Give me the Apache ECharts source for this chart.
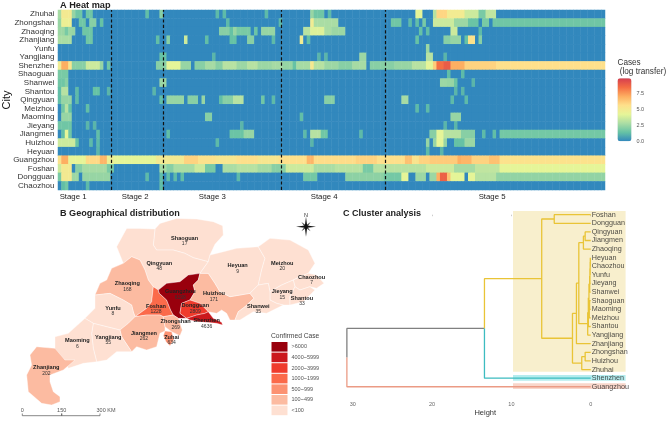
<!DOCTYPE html>
<html>
<head>
<meta charset="utf-8">
<title>Guangdong</title>
<script src="https://cdn.jsdelivr.net/npm/echarts@6/dist/echarts.min.js"></script>
<style>
html,body{margin:0;padding:0;background:#fff;}
#main{width:669px;height:421px;}
</style>
</head>
<body>
<div id="main"></div>
<script>
var dayCount = 156;
var heatCities = ['Zhuhai','Zhongshan','Zhaoqing','Zhanjiang','Yunfu','Yangjiang','Shenzhen','Shaoguan','Shanwei','Shantou','Qingyuan','Meizhou','Maoming','Jieyang','Jiangmen','Huizhou','Heyuan','Guangzhou','Foshan','Dongguan','Chaozhou'];

// log cases per city: [first day, last day, value], days not listed are 0
var zhuhai = [[0,0,2.7],[1,3,5],[4,4,2.4],[5,6,1.6],[8,9,1.6],[25,25,1.3],[29,29,2.1],[45,45,1.2],[47,47,1.2],[59,59,1.2],[72,72,2.4],[73,75,1.6],[77,77,1.2],[102,103,4.2],[107,107,3.1],[108,110,5.9],[111,115,4.9],[116,119,3.6],[120,121,1.8],[122,124,3.3]];
var zhongshan = [[0,0,2.4],[1,3,4.6],[6,7,1.6],[9,10,2.1],[12,12,1.4],[48,48,1.2],[63,63,1.2],[72,72,4.8],[73,79,2.8],[95,97,1.6],[100,100,1.2],[102,102,1.3],[104,104,1.8],[107,112,3.6],[113,116,2.5],[117,119,1.5],[121,122,1.8],[124,155,1.6]];
var zhaoqing = [[0,1,2.5],[2,2,1.8],[3,3,2.5],[4,4,2.4],[7,9,1.6],[46,48,2.1],[49,49,1.4],[50,50,2.4],[51,51,1.8],[52,54,1.8],[56,56,1.5],[58,61,2.4],[70,71,3.1],[72,75,4],[76,77,2.8],[78,81,2.5],[103,103,1.4],[105,105,1.3],[112,113,3.6],[120,120,1.2]];
var zhanjiang = [[0,3,2.8],[8,9,1.6],[28,28,1.3],[31,31,2.1],[36,36,3.6],[42,42,1.3],[49,50,1.4],[54,55,2.1],[61,61,1.2],[69,69,4.8],[71,71,1.3],[102,102,1.4],[110,111,2.1],[112,114,2.4],[116,116,1.4],[117,118,5.5],[120,120,2.1]];
var yunfu = [[105,105,2.5]];
var yangjiang = [[29,30,1.4],[44,44,1.1],[74,74,1.1],[76,76,1.1],[86,87,2.5],[105,106,3.1],[110,110,1.1]];
var shenzhen = [[0,0,4.8],[1,2,7],[3,3,5.3],[4,7,2.1],[8,11,3.6],[12,12,2.4],[14,14,1.6],[28,30,2.1],[31,34,4.2],[35,37,2.4],[39,41,2.1],[42,44,2.7],[45,46,2.1],[47,50,3.1],[51,53,2.5],[54,56,3.1],[57,60,2.5],[61,63,2.7],[64,66,2.4],[67,67,1.4],[68,71,2.7],[72,72,5.1],[73,75,3.1],[76,79,2.5],[80,83,2.1],[84,87,2.7],[89,92,2.1],[93,95,2.1],[96,100,2.4],[101,104,3.1],[105,106,4.2],[107,107,6.2],[108,109,8.4],[110,111,8.9],[112,115,7],[116,124,6],[125,155,5.6]];
var shaoguan = [[0,2,1.8],[111,111,1.3],[115,115,1.2]];
var shanwei = [[0,1,1.6],[2,2,2.1],[29,30,2.5],[109,110,2.5],[111,112,2.4],[113,113,1.5],[118,118,1.1]];
var shantou = [[0,0,1.3],[1,2,3.1],[5,5,1.2],[10,11,1.4],[14,14,1.1],[27,27,1.1],[113,113,1.1],[115,115,1.1]];
var qingyuan = [[0,0,1.3],[1,3,2.4],[5,5,1.2],[29,29,1.3],[31,31,2.4],[32,35,2.4],[37,39,2.1],[41,41,2.4],[46,46,1.3],[47,49,2.1],[50,52,3.1],[58,58,1.6],[61,61,1.2],[76,78,2.1],[98,99,2.7],[112,112,1.2],[116,116,1.2]];
var meizhou = [[1,1,1.6],[2,2,3.1],[3,3,1.4],[8,8,1.3],[102,102,1.2],[105,105,1.2]];
var maoming = [[1,3,2.4],[42,43,2.1],[69,69,1.3],[112,114,2.4]];
var jieyang = [[0,3,1.6],[8,8,1.1],[10,10,1.1],[52,52,1.1],[110,110,1.1],[113,113,1.1]];
var jiangmen = [[1,1,1.3],[2,2,4.2],[3,3,1.6],[11,11,1.3],[31,31,1.3],[49,52,1.5],[53,55,2.4],[70,70,1.2],[72,74,3.1],[75,76,1.6],[86,86,1.2],[106,107,2.1],[108,109,4.2],[110,114,3.1],[115,118,2.1],[121,121,1.2],[124,124,1.3],[126,155,1.7]];
var huizhou = [[0,4,3.6],[5,5,1.4],[9,9,1.2],[11,11,1.2],[45,45,1.2],[72,72,1.1],[105,105,2.4],[107,107,2.4],[108,109,4.2],[110,110,2.4],[113,115,1.4],[116,118,2.5]];
var heyuan = [[11,11,1.1],[105,105,1.2],[109,109,1.1]];
var guangzhou = [[0,0,5.4],[1,2,7],[3,7,4.3],[8,11,5.8],[12,13,6.8],[14,15,4.6],[16,27,4.2],[28,35,5],[36,39,6],[40,44,5.5],[45,50,5.2],[51,56,5.6],[57,62,5.2],[63,70,5.6],[71,72,6.8],[73,84,5.7],[85,90,6],[91,98,5.6],[99,100,6.5],[101,102,5.4],[103,105,6],[106,113,6.2],[114,114,7],[115,117,6.8],[118,122,6],[123,125,6.5],[126,155,5.5]];
var foshan = [[0,0,3.6],[1,3,5],[5,6,2.1],[7,13,2.7],[14,15,1.8],[29,30,2.7],[31,32,2.1],[33,38,2.8],[39,41,3.6],[42,44,1.8],[47,50,2.8],[51,56,3.1],[57,60,2.7],[61,64,2.1],[65,72,3.6],[73,78,2.8],[79,86,3.1],[87,89,1.8],[90,104,3.1],[105,112,3.6],[113,118,2.7],[119,125,3.3],[126,155,4.2]];
var dongguan = [[0,0,1.8],[1,3,5],[4,5,2.5],[7,14,2.4],[25,25,1.2],[29,29,1.3],[31,31,1.3],[33,33,1.2],[35,35,1.3],[51,51,1.2],[70,73,1.7],[82,92,2.2],[93,97,1.7],[98,99,4.2],[102,104,2.5],[106,107,2.5],[108,108,7],[109,110,8.8],[111,111,6.5],[112,115,4.2],[117,118,4.2],[119,124,3.1],[125,155,2.3]];
var chaozhou = [[1,1,1.3],[2,2,1.7],[8,8,1.2],[29,29,1.3]];
var cityRuns = [zhuhai,zhongshan,zhaoqing,zhanjiang,yunfu,yangjiang,shenzhen,shaoguan,shanwei,shantou,qingyuan,meizhou,maoming,jieyang,jiangmen,huizhou,heyuan,guangzhou,foshan,dongguan,chaozhou];

var stageBreaks = [15.2, 30, 63.7, 93.2];
var stageCenters = [4.3, 22, 44, 75.9, 123.8];
var stageNames = ['Stage 1','Stage 2','Stage 3','Stage 4','Stage 5'];
var cellScaleTicks = [0, 2.5, 5, 7.5];

// map labels and confirmed cases
var mapNames = ['Shaoguan','Qingyuan','Heyuan','Meizhou','Chaozhou','Zhaoqing','Huizhou','Jieyang','Shantou','Shanwei','Guangzhou','Foshan','Dongguan','Shenzhen','Zhongshan','Yunfu','Yangjiang','Jiangmen','Zuhai','Maoming','Zhanjiang'];
var mapCases = [17,48,9,20,7,168,171,15,33,35,6198,1228,2809,4636,269,8,55,262,634,6,202];

// hclust result: [height, left, right]
var tightLeaves = [0.3,[0.22,[0.13,[0.1,[0.07,[0.05,'Heyuan','Chaozhou'],'Yunfu'],'Jieyang'],'Shanwei'],[0.18,[0.14,'Shaoguan','Maoming'],'Meizhou']],'Shantou'];
var yellowTree = [6.18,[4.6,'Foshan','Dongguan'],[2.3,[1.8,[1.5,[0.92,[0.7,'Qingyuan','Jiangmen'],'Zhaoqing'],[0.38,tightLeaves,'Yangjiang']],'Zhanjiang'],[1.13,[0.7,'Zhongshan','Huizhou'],'Zhuhai']]];
var middleTree = [13.4,yellowTree,'Shenzhen'];
var rootTree = [30.75,middleTree,'Guangzhou'];

// traced outlines of the prefectures
var outlines = {
  Shaoguan:{cp:[554,108],ring:[[465,72],[480,55],[530,40],[590,42],[640,50],[668,62],[670,90],[645,118],[630,150],[625,170],[580,158],[555,145],[520,135],[470,135],[460,120]]},
  Qingyuan:{cp:[478,183],ring:[[350,125],[380,70],[420,70],[465,72],[460,120],[470,135],[520,135],[555,145],[580,158],[625,170],[600,205],[565,210],[540,230],[500,235],[475,255],[460,245],[445,225],[435,195],[420,165],[395,155],[370,175]]},
  Zhaoqing:{cp:[382,245],ring:[[395,155],[420,165],[435,195],[445,225],[460,245],[455,290],[440,310],[405,335],[400,320],[395,300],[370,285],[330,265],[285,270],[300,235],[320,225],[335,190],[370,175]]},
  Foshan:{cp:[468,312],ring:[[460,245],[475,255],[478,265],[500,285],[512,315],[520,330],[490,335],[480,330],[440,330],[405,335],[440,310],[455,290]]},
  Guangzhou:{cp:[541,268],ring:[[600,205],[595,225],[580,240],[585,260],[570,285],[545,295],[540,325],[560,340],[535,340],[520,330],[512,315],[500,285],[478,265],[475,255],[500,235],[540,230],[565,210]]},
  Huizhou:{cp:[642,275],ring:[[600,205],[625,205],[645,235],[660,260],[690,275],[750,265],[762,280],[735,305],[715,320],[705,345],[690,345],[680,325],[665,315],[650,325],[625,320],[600,295],[570,285],[585,260],[580,240],[595,225]]},
  Dongguan:{cp:[586,310],ring:[[570,285],[600,295],[625,320],[615,325],[590,330],[560,340],[540,325],[545,295]]},
  Shenzhen:{cp:[620,355],ring:[[560,340],[590,330],[615,325],[625,320],[640,340],[665,352],[668,360],[650,355],[620,352],[595,350],[570,345]]},
  Heyuan:{cp:[713,190],ring:[[630,150],[670,140],[710,130],[775,125],[795,160],[785,195],[775,240],[750,265],[690,275],[660,260],[645,235],[625,205],[600,205],[625,170]]},
  Meizhou:{cp:[847,183],ring:[[775,125],[810,100],[870,105],[925,135],[945,175],[925,205],[900,215],[880,225],[845,240],[810,260],[805,235],[775,240],[785,195],[795,160]]},
  Chaozhou:{cp:[935,225],ring:[[925,205],[950,210],[972,235],[950,250],[930,245],[900,255],[885,245],[880,225],[900,215]]},
  Jieyang:{cp:[847,268],ring:[[810,260],[845,240],[880,225],[885,245],[870,275],[870,300],[850,300],[830,295],[810,285]]},
  Shantou:{cp:[906,288],ring:[[885,245],[900,255],[930,245],[945,255],[910,290],[870,300],[870,275]]},
  Shanwei:{cp:[775,312],ring:[[750,265],[775,240],[805,235],[810,260],[810,285],[830,295],[850,300],[800,325],[760,320],[720,345],[705,345],[715,320],[735,305],[762,280]]},
  Yunfu:{cp:[339,318],ring:[[330,265],[370,285],[395,300],[400,320],[405,335],[385,355],[360,375],[320,365],[280,355],[255,340],[285,310],[285,270]]},
  Jiangmen:{cp:[432,393],ring:[[405,335],[440,330],[480,330],[490,335],[495,365],[495,378],[480,385],[470,425],[440,435],[410,425],[395,440],[365,395],[360,375],[385,355]]},
  Zhongshan:{cp:[527,358],ring:[[490,335],[520,330],[535,340],[547,375],[540,392],[515,380],[495,365]]},
  Zuhai:{cp:[515,405],ring:[[495,378],[515,380],[522,405],[510,422],[498,410],[490,392]]},
  Yangjiang:{cp:[325,405],ring:[[280,355],[320,365],[360,375],[365,395],[395,440],[350,440],[320,465],[290,470],[280,430],[275,385]]},
  Maoming:{cp:[232,415],ring:[[255,340],[280,355],[275,385],[280,430],[290,470],[250,475],[205,490],[195,465],[165,440],[165,395],[205,385]]},
  Zhanjiang:{cp:[139,497],ring:[[110,425],[165,430],[195,465],[225,465],[190,495],[150,510],[150,530],[160,560],[180,575],[180,590],[155,600],[125,595],[85,560],[80,510],[95,480],[90,450]]}
};

var chartDom = document.getElementById('main');
var myChart = echarts.init(chartDom);

var features = [];
for (var name in outlines) {
  features.push({
    type: 'Feature',
    properties: {name: name, cp: outlines[name].cp},
    geometry: {type: 'Polygon', coordinates: [outlines[name].ring]}
  });
}
echarts.registerMap('guangdong', {type: 'FeatureCollection', features: features});

// heat map cells
var heatData = [];
for (var r = 0; r < heatCities.length; r++) {
  var row = [];
  for (var d = 0; d < dayCount; d++) row.push(0);
  cityRuns[r].forEach(function(run) {
    for (var k = run[0]; k <= run[1]; k++) row[k] = run[2];
  });
  for (var d2 = 0; d2 < dayCount; d2++) heatData.push([d2, r, row[d2]]);
}
var dayCategories = [];
for (var i = 0; i < dayCount; i++) dayCategories.push(String(i));

var mapData = mapNames.map(function(n, idx) {
  return {name: n, value: mapCases[idx]};
});

// dendrogram: leaf rows first, then branches
var leafRows = [];
function collectLeaves(node) {
  if (typeof node === 'string') { leafRows.push(node); return; }
  collectLeaves(node[1]);
  collectLeaves(node[2]);
}
collectLeaves(rootTree);

var GRAY = '#808080', YELLOW = '#e9c436', TEAL = '#3dbcc0', SALMON = '#eb9b85';
var branches = {};
branches[GRAY] = []; branches[YELLOW] = []; branches[TEAL] = []; branches[SALMON] = [];

function nodeRow(node) {
  if (typeof node === 'string') return leafRows.indexOf(node);
  return (nodeRow(node[1]) + nodeRow(node[2])) / 2;
}
function nodeHeight(node) {
  return typeof node === 'string' ? 0 : node[0];
}
function walk(node, color) {
  if (typeof node === 'string') return;
  var y = nodeRow(node);
  [node[1], node[2]].forEach(function(child) {
    var c = color;
    if (node === rootTree) c = child === middleTree ? GRAY : SALMON;
    if (node === middleTree) c = child === yellowTree ? YELLOW : TEAL;
    branches[c].push([node[0], y], [node[0], nodeRow(child)], [nodeHeight(child), nodeRow(child)], '-');
    walk(child, c);
  });
}
walk(rootTree, YELLOW);

function branchSeries(color) {
  return {
    type: 'line',
    xAxisIndex: 3,
    yAxisIndex: 3,
    data: branches[color],
    symbol: 'none',
    connectNulls: false,
    silent: true,
    lineStyle: {color: color, width: 1.3}
  };
}

function starPoints(cx, cy, longR, shortR, turn) {
  var pts = [];
  for (var n = 0; n < 8; n++) {
    var a = turn + n * Math.PI / 4;
    var rad = n % 2 === 0 ? longR : shortR;
    pts.push([cx + rad * Math.sin(a), cy - rad * Math.cos(a)]);
  }
  return pts;
}

function gText(x, y, text, size, color) {
  return {type: 'text', x: x, y: y, silent: true, style: {text: text, fontSize: size, fill: color, fontFamily: 'Liberation Sans', align: 'center', verticalAlign: 'middle'}};
}

var cityTitle = gText(6.5, 100, 'City', 11, '#111');
cityTitle.rotation = Math.PI / 2;

var option = {
  animation: false,
  backgroundColor: '#fff',
  textStyle: {fontFamily: 'Liberation Sans'},
  title: [
    {text: 'A Heat map', left: 60, top: 0, padding: 0, textStyle: {fontSize: 9.2, fontWeight: 'bold', color: '#222', lineHeight: 10}},
    {text: 'B Geographical distribution', left: 60, top: 208, padding: 0, textStyle: {fontSize: 9.1, fontWeight: 'bold', color: '#222', lineHeight: 11}},
    {text: 'C Cluster analysis', left: 343, top: 208, padding: 0, textStyle: {fontSize: 9, fontWeight: 'bold', color: '#222', lineHeight: 11}},
    {text: 'Cases\n (log transfer)', left: 617.5, top: 58, padding: 0, textStyle: {fontSize: 8.2, fontWeight: 'normal', color: '#333', lineHeight: 9}},
    {text: 'Confirmed Case', left: 271, top: 332, padding: 0, textStyle: {fontSize: 6.7, fontWeight: 'normal', color: '#444', lineHeight: 9}}
  ],
  grid: [
    {left: 58, top: 10, width: 547, height: 180, outerBoundsMode: 'none'},
    {left: 58, top: 10, width: 547, height: 180, outerBoundsMode: 'none'},
    {left: 617.5, top: 78.3, width: 14, height: 63, outerBoundsMode: 'none'},
    {left: 344.9, top: 206.1, width: 280.7, height: 191.9, outerBoundsMode: 'none'}
  ],
  xAxis: [
    {type: 'category', gridIndex: 0, data: dayCategories, show: false},
    {
      type: 'value', gridIndex: 1, min: 0, max: dayCount,
      axisLine: {show: false}, axisTick: {show: false}, splitLine: {show: false},
      axisLabel: {
        margin: 3, fontSize: 7.8, color: '#222', showMinLabel: true, showMaxLabel: true,
        customValues: stageCenters,
        formatter: function(v) { return stageNames[stageCenters.indexOf(v)]; }
      }
    },
    {type: 'value', gridIndex: 2, show: false, min: 0, max: 1},
    {
      type: 'value', gridIndex: 3, inverse: true, min: -4.4, max: 31,
      name: 'Height', nameLocation: 'middle', nameGap: 11,
      nameTextStyle: {fontSize: 7.5, color: '#333'},
      axisLine: {show: false}, splitLine: {show: false},
      axisTick: {length: 1.5, lineStyle: {color: '#aaa', width: 0.6}, customValues: [0, 10, 20, 30]},
      axisLabel: {margin: 3, fontSize: 5.5, color: '#666', showMinLabel: true, showMaxLabel: true, customValues: [0, 10, 20, 30]}
    }
  ],
  yAxis: [
    {
      type: 'category', gridIndex: 0, inverse: true, data: heatCities,
      axisLine: {show: false}, axisTick: {show: false},
      axisLabel: {margin: 3.5, fontSize: 8, color: '#333', interval: 0}
    },
    {type: 'value', gridIndex: 1, show: false, min: 0, max: 1},
    {
      type: 'value', gridIndex: 2, position: 'right', min: 0, max: 9.84,
      axisLine: {show: false}, axisTick: {show: false}, splitLine: {show: false},
      axisLabel: {
        margin: 5, fontSize: 5.5, color: '#555', showMinLabel: true, showMaxLabel: true,
        customValues: cellScaleTicks,
        formatter: function(v) { return v.toFixed(1); }
      }
    },
    {type: 'value', gridIndex: 3, show: false, inverse: true, min: -1, max: 21.31}
  ],
  visualMap: [
    {
      type: 'continuous', seriesIndex: 0, dimension: 2, min: 0, max: 9.84,
      left: 617.5, top: 78.3, itemWidth: 14, itemHeight: 63, padding: 0,
      text: null, calculable: false, hoverLink: false, showLabel: false,
      inRange: {color: ['#3288bd','#66c2a5','#abdda4','#e6f598','#fee08b','#fdae61','#f46d43','#d53e4f']},
      textStyle: {fontSize: 1, color: 'rgba(0,0,0,0)'}
    },
    {
      type: 'piecewise', seriesIndex: 7, left: 271.5, top: 342,
      itemWidth: 16, itemHeight: 9.6, itemGap: 1, textGap: 4, padding: 0, hoverLink: false,
      selectedMode: false, itemSymbol: 'rect',
      textStyle: {fontSize: 5.5, color: '#555'},
      pieces: [
        {min: 6000, label: '>6000', color: '#99000d'},
        {min: 4000, max: 5999, label: '4000~5999', color: '#cb181d'},
        {min: 2000, max: 3999, label: '2000~3999', color: '#ef3b2c'},
        {min: 1000, max: 1999, label: '1000~1999', color: '#fb6a4a'},
        {min: 500, max: 999, label: '500~999', color: '#fc9272'},
        {min: 100, max: 499, label: '100~499', color: '#fcbba1'},
        {max: 99, label: '<100', color: '#fee0d2'}
      ]
    }
  ],
  series: [
    {
      type: 'heatmap', xAxisIndex: 0, yAxisIndex: 0, data: heatData, silent: true,
      progressive: 0, itemStyle: {borderWidth: 0}
    },
    {
      type: 'line', xAxisIndex: 1, yAxisIndex: 1, data: [], silent: true,
      markLine: {
        silent: true, symbol: 'none', label: {show: false},
        lineStyle: {color: '#111', type: [3.2, 2.2], width: 1.2},
        data: stageBreaks.map(function(v) { return {xAxis: v}; })
      }
    },
    branchSeries(GRAY),
    branchSeries(YELLOW),
    branchSeries(TEAL),
    branchSeries(SALMON),
    {
      type: 'scatter', xAxisIndex: 3, yAxisIndex: 3, symbolSize: 0, silent: true, z: 3,
      data: leafRows.map(function(n, idx) { return [0, idx, n]; }),
      label: {
        show: true, position: 'right', distance: 1, fontSize: 7.2, color: '#222',
        formatter: function(p) { return p.value[2]; }
      },
      markArea: {
        silent: true, z: 0,
        data: [
          [{xAxis: 9.8, yAxis: -0.43, itemStyle: {color: '#f8efcd'}}, {xAxis: -4.4, yAxis: 18.26}],
          [{xAxis: 9.8, yAxis: 18.64, itemStyle: {color: '#b4ecee'}}, {xAxis: -4.4, yAxis: 19.3}],
          [{xAxis: 9.8, yAxis: 19.6, itemStyle: {color: '#f9d6ca'}}, {xAxis: -4.4, yAxis: 20.27}]
        ]
      }
    },
    {
      type: 'map', map: 'guangdong', silent: true, selectedMode: false, roam: false,
      projection: {
        project: function(p) { return p; },
        unproject: function(p) { return p; }
      },
      aspectScale: 1,
      layoutCenter: [175.3, 311.7],
      layoutSize: 297.3,
      data: mapData,
      itemStyle: {borderColor: '#fff', borderWidth: 0.4},
      label: {
        show: true,
        formatter: function(p) { return '{n|' + p.name + '}\n{v|' + p.value + '}'; },
        rich: {
          n: {fontSize: 5.6, fontWeight: 'bold', color: '#222', lineHeight: 6},
          v: {fontSize: 5, color: '#333', lineHeight: 6}
        }
      }
    }
  ],
  graphic: [
    cityTitle,
    // compass
    {type: 'polygon', silent: true, shape: {points: starPoints(306, 226.7, 6.5, 1.4, Math.PI / 4)}, style: {fill: '#444'}},
    {type: 'polygon', silent: true, shape: {points: starPoints(306, 226.7, 10, 1.6, 0)}, style: {fill: '#111'}},
    gText(306, 215, 'N', 5.5, '#333'),
    // scale bar
    {type: 'polyline', silent: true, shape: {points: [[22.3, 413.5], [22.3, 415.7], [61.7, 415.7], [61.7, 413.5], [61.7, 415.7], [100, 415.7], [100, 413.5]]}, style: {stroke: '#555', lineWidth: 0.7, fill: null}},
    gText(22.3, 410, '0', 5.5, '#555'),
    gText(61.7, 410, '150', 5.5, '#555'),
    gText(106, 410, '300 KM', 5.5, '#555')
  ]
};
myChart.setOption(option);
</script>
</body>
</html>
